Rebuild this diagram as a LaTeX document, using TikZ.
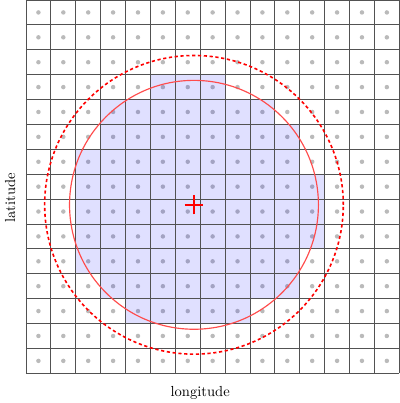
\documentclass[tikz,border=0pt]{standalone}
\usepackage{tikz}
\usetikzlibrary{positioning}

\begin{document}
\begin{tikzpicture}[scale=0.6]
\tikzset{
 cellfill/.style={fill=blue,fill opacity=0.12},
 dotfill/.style={fill=black!27},
 gridline/.style={draw=black!68,line width=0.6pt},
 near/.style={draw=red!70,line width=0.8pt},
 far/.style={draw=red,line width=1.1pt,dash pattern=on 2.2pt off 1.8pt},
 crossline/.style={draw=red,line width=1pt},
 lab/.style={font=\normalsize}
}
\useasboundingbox (-1.044,-1.193) rectangle (15.02,15.0);
\coordinate (c) at (6.75,6.77);
% centres of the cells
\foreach \i in {0,...,14}{\foreach \j in {0,...,14}{\fill[dotfill] (\i+0.5,\j+0.5) circle (0.09);}}
% cells whose centre lies in the circle
\foreach \i in {0,...,14}{\foreach \j in {0,...,14}{
 \pgfmathtruncatemacro{\inside}{((\i+0.5-6.75)^2+(\j+0.5-6.75)^2<25)}
 \ifnum\inside=1 \fill[cellfill] (\i,\j) rectangle ++(1,1);\fi
}}
\draw[gridline] (0,0) grid (15,15);
\draw[near] (c) circle (5);
\draw[far] (c) circle (6);
\draw[crossline] (c) ++(-0.38,0) -- ++(0.76,0);
\draw[crossline] (c) ++(0,-0.38) -- ++(0,0.76);
\node[lab] (lon) at (7,-0.8) {longitude};
\node[lab,rotate=90] (lat) at (-0.64,7.05) {latitude};
\end{tikzpicture}
\end{document}
